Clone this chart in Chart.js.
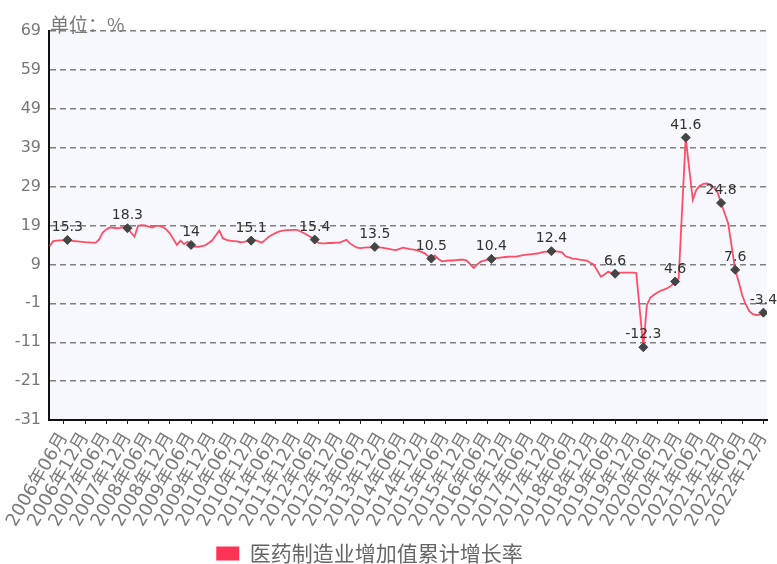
<!DOCTYPE html>
<html>
<head>
<meta charset="utf-8">
<script src="https://cdn.jsdelivr.net/npm/chart.js@4.4.1/dist/chart.umd.min.js"></script>
<style>
  html, body { margin: 0; padding: 0; background: #fff; }
</style>
</head>
<body>
<canvas id="chart" width="777" height="564"></canvas>
<script>
// years and months present in the data (no January figure is published)
const years = [2006, 2007, 2008, 2009, 2010, 2011, 2012, 2013, 2014, 2015, 2016, 2017, 2018, 2019, 2020, 2021, 2022];
const monthsOfYear = [2, 3, 4, 5, 6, 7, 8, 9, 10, 11, 12];

// cumulative growth, %, Feb..Dec of each year
const growth = [
  13.7, 15.0, 15.1, 15.2, 15.2, 15.3, 15.1, 15.0, 14.9, 14.8, 14.7,   // 2006
  14.6, 14.6, 15.4, 17.2, 18.0, 18.5, 18.4, 18.3, 18.4, 18.6, 18.3,   // 2007
  16.1, 18.9, 19.1, 19.0, 18.7, 18.5, 18.9, 18.9, 18.6, 18.0, 17.0,   // 2008
  14.0, 15.1, 14.2, 14.8, 14.0, 13.6, 13.5, 13.7, 13.9, 14.5, 15.2,   // 2009
  17.7, 15.7, 15.3, 15.1, 15.0, 14.9, 14.7, 14.8, 15.0, 15.1, 15.3,   // 2010
  14.6, 15.3, 16.1, 16.6, 17.1, 17.5, 17.7, 17.8, 17.8, 17.9, 17.9,   // 2011
  17.0, 16.5, 16.0, 15.4, 14.5, 14.4, 14.4, 14.5, 14.5, 14.6, 14.6,   // 2012
  15.3, 14.4, 13.8, 13.3, 13.2, 13.3, 13.4, 13.4, 13.5, 13.4, 13.3,   // 2013
  13.0, 12.8, 12.7, 13.0, 13.3, 13.1, 12.9, 12.8, 12.6, 12.3, 11.9,   // 2014
  10.5, 11.3, 10.4, 9.8, 9.9, 10.0, 10.0, 10.1, 10.2, 10.2, 10.0,     // 2015
  8.1, 9.0, 9.7, 10.0, 10.2, 10.4, 10.6, 10.7, 10.8, 10.9, 11.0,      // 2016
  11.0, 11.2, 11.4, 11.5, 11.6, 11.7, 11.8, 12.0, 12.2, 12.3, 12.4,   // 2017
  12.3, 12.1, 11.1, 10.8, 10.5, 10.4, 10.2, 10.1, 10.0, 9.4, 8.9,     // 2018
  5.8, 6.4, 7.1, 6.8, 6.6, 6.9, 6.9, 6.9, 6.9, 6.9, 6.8,              // 2019
  -12.3, -1.5, 0.5, 1.2, 1.8, 2.3, 2.6, 3.0, 3.6, 4.6, 5.4,           // 2020
  41.6, 33.5, 25.6, 28.2, 29.2, 29.7, 29.8, 29.5, 28.8, 27.5, 24.8,   // 2021
  19.6, 13.6, 7.6, 4.5, 1.0, -1.3, -3.0, -3.8, -4.0, -3.9, -3.4       // 2022
];

// months whose value is marked and written on the line
const marked = ["2006-07", "2007-12", "2009-06", "2010-11", "2012-05", "2013-10", "2015-02", "2016-07",
  "2017-12", "2019-06", "2020-02", "2020-11", "2021-02", "2021-12", "2022-04", "2022-12"];

// months labelled on the x axis
const tickMonthsOfYear = [6, 12];

const yTicks = { min: -31, max: 69, step: 10 };
const seriesName = "医药制造业增加值累计增长率";
const unitText = "单位：%";

const pad2 = n => String(n).padStart(2, "0");
const monthIndex = (y, m) => (y - years[0]) * 12 + (m - 2);

const points = [];
years.forEach((y, i) => {
  monthsOfYear.forEach((m, j) => {
    points.push({ x: monthIndex(y, m), y: growth[i * monthsOfYear.length + j], key: `${y}-${pad2(m)}` });
  });
});

const xTicks = [];
years.forEach(y => tickMonthsOfYear.forEach(m => xTicks.push({ value: monthIndex(y, m), label: `${y}年${pad2(m)}月` })));
const xLabelAt = {};
xTicks.forEach(t => { xLabelAt[t.value] = t.label; });

const isMarked = ctx => ctx.raw && marked.includes(ctx.raw.key);

const FONT = "'DejaVu Sans', 'Noto Sans CJK SC', sans-serif";

const plotBg = {
  id: "plotBg",
  afterLayout(chart) {
    // legend sits a little left of the canvas centre
    if (chart.legend) { chart.legend.left -= 14; chart.legend.right -= 14; }
  },
  beforeDraw(chart) {
    const { ctx, chartArea: a } = chart;
    ctx.save();
    ctx.fillStyle = "#ffffff";
    ctx.fillRect(0, 0, chart.width, chart.height);
    ctx.fillStyle = "#f7f8fe";
    ctx.fillRect(a.left, a.top, a.right - a.left, a.bottom - a.top);
    ctx.restore();
  },
  afterDraw(chart) {
    const { ctx, chartArea: a } = chart;
    ctx.save();
    ctx.font = "19px 'Noto Sans CJK SC', sans-serif";
    ctx.fillStyle = "#7a7a7a";
    ctx.textBaseline = "alphabetic";
    ctx.fillText(unitText, a.left + 1, a.top + 1);
    ctx.restore();
  }
};

const valueLabels = {
  id: "valueLabels",
  afterDatasetsDraw(chart) {
    const { ctx } = chart;
    const meta = chart.getDatasetMeta(0);
    ctx.save();
    ctx.font = "14px " + FONT;
    ctx.fillStyle = "#333";
    ctx.textAlign = "center";
    ctx.textBaseline = "alphabetic";
    meta.data.forEach((el, i) => {
      const p = points[i];
      if (!marked.includes(p.key)) return;
      ctx.fillText(String(p.y), el.x, el.y - 9);
    });
    ctx.restore();
  }
};

new Chart(document.getElementById("chart"), {
  type: "line",
  data: {
    datasets: [{
      label: seriesName,
      data: points,
      borderColor: "#ff4d66",
      backgroundColor: "#ff3355",
      borderWidth: 1.8,
      tension: 0,
      pointStyle: "rectRot",
      pointRadius: ctx => isMarked(ctx) ? 4.5 : 0,
      pointHoverRadius: 0,
      pointBackgroundColor: "#444",
      pointBorderColor: "#444",
      pointBorderWidth: 1,
    }],
  },
  options: {
    responsive: false,
    animation: false,
    devicePixelRatio: 1,
    layout: { padding: { top: 31, right: 10, left: 0, bottom: -10 } },
    plugins: {
      legend: {
        position: "bottom",
        labels: {
          color: "#666",
          font: { size: 21, family: "'Noto Sans CJK SC', sans-serif" },
          boxWidth: 23, boxHeight: 14, padding: 0,
          generateLabels: chart => [{
            text: seriesName, fillStyle: "#ff3355", strokeStyle: "#ff3355", lineWidth: 0,
            fontColor: "#666", datasetIndex: 0, hidden: false,
          }],
        },
      },
      tooltip: { enabled: false },
    },
    scales: {
      x: {
        type: "linear",
        min: -0.2,
        max: 203.0,
        afterBuildTicks: s => { s.ticks = xTicks.map(t => ({ value: t.value })); },
        afterFit: s => { s.height = 123; s.paddingRight = 0; s.paddingLeft = 0; },
        ticks: {
          autoSkip: false, minRotation: 60, maxRotation: 60, padding: 5,
          color: "#7a7a7a", font: { size: 18, family: FONT },
          callback: v => xLabelAt[v] || "",
        },
        grid: { drawOnChartArea: false, drawTicks: true, tickLength: 4, color: "#222", lineWidth: 1 },
        border: { color: "#111", width: 2 },
      },
      y: {
        min: yTicks.min,
        max: yTicks.max,
        afterFit: s => { s.width = 49; },
        ticks: { stepSize: yTicks.step, padding: 8, color: "#777", font: { size: 16, family: FONT } },
        grid: { color: "#808080", lineWidth: 1.4, drawTicks: false },
        border: { color: "#111", width: 2, dash: [6, 4] },
      },
    },
  },
  plugins: [plotBg, valueLabels],
});
</script>
</body>
</html>
